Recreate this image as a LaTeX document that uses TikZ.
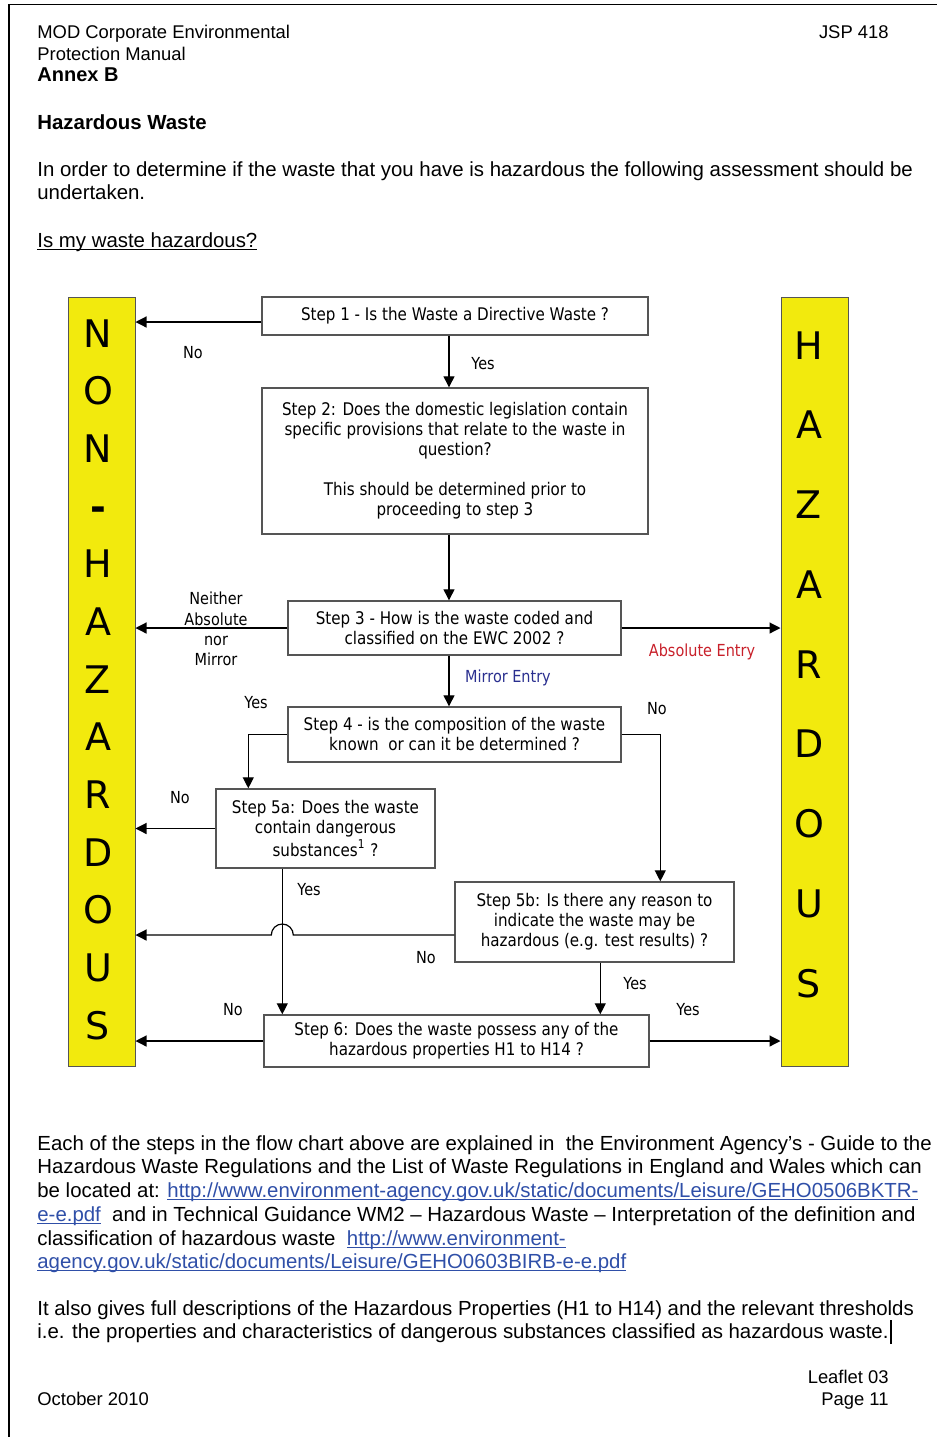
\documentclass[tikz,border=0pt]{standalone}
\usepackage{fontspec}
\setmainfont{Liberation Sans}
\newfontfamily\chartfont{DejaVu Sans}[FakeStretch=0.87]
\newfontfamily\barfont{DejaVu Sans}
\usetikzlibrary{arrows.meta,positioning}
\definecolor{hazyellow}{HTML}{F2EA0D}
\definecolor{boxgrey}{HTML}{555555}
\definecolor{entryred}{HTML}{C8202A}
\definecolor{entryblue}{HTML}{2A2F8F}
\definecolor{linkblue}{HTML}{2F4FA8}
\newcommand{\lowline}[1]{\leavevmode\setbox0\hbox{#1}\rlap{\rule[-1.3pt]{\wd0}{0.5pt}}\box0}
\newcommand{\weblink}[1]{\textcolor{linkblue}{\lowline{#1}}}

\begin{document}
\begin{tikzpicture}[x=0.5pt, y=-0.5pt, every node/.style={inner sep=0pt}, txt/.style={anchor=base west,font=\fontsize{10.2}{12}\selectfont}, small/.style={anchor=base west,font=\fontsize{9.2}{11}\selectfont}, box/.style={draw=boxgrey,line width=0.7pt,align=center,font=\chartfont\fontsize{8.7}{10}\selectfont}, bar/.style={draw=boxgrey,fill=hazyellow,line width=0.5pt,minimum width=33.5pt,minimum height=384.5pt}, big/.style={anchor=base,font=\barfont\fontsize{19}{19}\selectfont}, lbl/.style={font=\chartfont\fontsize{8.3}{10.2}\selectfont,align=center}, arr/.style={-{Triangle[length=5.5pt,width=5.5pt]},line width=0.6pt}]
\useasboundingbox (0,0) rectangle (937,1437);
\draw[line width=0.8pt] (9,1437) -- (9,4.5) -- (937,4.5);

\node[small] (mod) at (37,38) {MOD Corporate Environmental};
\node[small] (manual) at (37,60) {Protection Manual};
\node[small,font=\fontsize{10}{11}\selectfont\bfseries] (annex) at (37,81) {Annex B};
\node[small,anchor=base east] (jsp) at (889,38) {JSP 418};
\node[txt,font=\fontsize{10.2}{12}\selectfont\bfseries] (title) at (37,129) {Hazardous Waste};
\node[txt] (intro1) at (37,176) {In order to determine if the waste that you have is hazardous the following assessment should be};
\node[txt] (intro2) at (37,199) {undertaken.};
\node[txt] (question) at (37,247) {\lowline{Is my waste hazardous?}};

\node[bar] (nonhaz) at (101.5,681.5) {};
\node[bar] (haz) at (814.5,681.5) {};
\foreach \ch [count=\i] in {N,O,N,\textbf{-},H,A,Z,A,R,D,O,U,S}
  \node[big] (non\i) at (98,{347+57.67*(\i-1)}) {\ch};
\foreach \ch [count=\i] in {H,A,Z,A,R,D,O,U,S}
  \node[big] (haz\i) at (809,{359+79.75*(\i-1)}) {\ch};

\node[box,minimum width=193pt,minimum height=19pt] (s1) at (455,316) {Step 1 - Is the Waste a Directive Waste ?};
\node[box,minimum width=193pt,minimum height=73pt] (s2) at (455,461) {Step 2: Does the domestic legislation contain\\specific provisions that relate to the waste in\\question?\\[10pt]This should be determined prior to\\proceeding to step 3};
\node[box,minimum width=166.5pt,minimum height=27pt] (s3) at (454.5,628) {Step 3 - How is the waste coded and\\classified on the EWC 2002 ?};
\node[box,minimum width=166.5pt,minimum height=27.5pt] (s4) at (454.5,734.5) {Step 4 - is the composition of the waste\\known~ or can it be determined ?};
\node[box,minimum width=109.5pt,minimum height=39.5pt] (s5a) at (325.5,828.5) {Step 5a: Does the waste\\contain dangerous\\substances\textsuperscript{1} ?};
\node[box,minimum width=139.5pt,minimum height=40pt] (s5b) at (594.5,922) {Step 5b: Is there any reason to\\indicate the waste may be\\hazardous (e.g. test results) ?};
\node[box,minimum width=192.5pt,minimum height=26pt] (s6) at (456.5,1041) {Step 6: Does the waste possess any of the\\hazardous properties H1 to H14 ?};

\coordinate (spine) at (449,0);
\draw[arr] (s1.south -| spine) -- (s2.north -| spine);
\draw[arr] (s2.south -| spine) -- (s3.north -| spine);
\draw[arr] (s3.south -| spine) -- (s4.north -| spine);
\draw[arr] ([yshift=-3pt]s1.west) -- ([yshift=-3pt]s1.west -| nonhaz.east);
\draw[arr] (s3.west) -- (s3.west -| nonhaz.east);
\draw[arr] (s3.east) -- (s3.east -| haz.west);
\draw[arr] (s4.west) -| ([xshift=16.5pt]s5a.north west);
\draw[arr] (s4.east) -| ([xshift=103pt]s5b.north west);
\draw[arr] (s5a.west) -- (s5a.west -| nonhaz.east);
\coordinate (cross) at ([xshift=33.5pt]s5a.south west);
\draw[arr] (cross) -- (cross |- s6.north);
\coordinate (drop) at ([xshift=73pt]s5b.south west);
\draw[arr] (drop) -- (drop |- s6.north);
\coordinate (hop) at (cross |- s5b.west);
\draw[arr] ([yshift=-6.5pt]s5b.west) -- ([xshift=5.5pt,yshift=-6.5pt]hop) arc[start angle=0,end angle=-180,radius=11] -- ([yshift=-6.5pt]s5b.west -| nonhaz.east);
\draw[arr] (s6.west) -- (s6.west -| nonhaz.east);
\draw[arr] (s6.east) -- (s6.east -| haz.west);

\node[lbl] (yes1) at (483,364) {Yes};
\node[lbl] (no1) at (193,353) {No};
\node[lbl] (neither) at (216,629) {Neither\\Absolute\\nor\\Mirror};
\node[lbl,text=entryred] (absentry) at (702,652) {Absolute Entry};
\node[lbl,text=entryblue] (mirentry) at (508,678) {Mirror Entry};
\node[lbl] (yes4) at (256,703) {Yes};
\node[lbl] (no4) at (657,709) {No};
\node[lbl] (no5a) at (180,798) {No};
\node[lbl] (yes5a) at (309,890) {Yes};
\node[lbl] (no5b) at (426,958) {No};
\node[lbl] (yes5b) at (635,984) {Yes};
\node[lbl] (no6) at (233,1010) {No};
\node[lbl] (yes6) at (688,1010) {Yes};

\node[txt] (foot1) at (37,1150) {Each of the steps in the flow chart above are explained in\ \ the Environment Agency’s - Guide to the};
\node[txt] (foot2) at (37,1173) {Hazardous Waste Regulations and the List of Waste Regulations in England and Wales which can};
\node[txt] (foot3) at (37,1197) {be located at: \weblink{http://www.environment-agency.gov.uk/static/documents/Leisure/GEHO0506BKTR-}};
\node[txt] (foot4) at (37,1221) {\weblink{e-e.pdf}\ \ and in Technical Guidance WM2 – Hazardous Waste – Interpretation of the definition and};
\node[txt] (foot5) at (37,1245) {classification of hazardous waste\ \ \weblink{http://www.environment-}};
\node[txt] (foot6) at (37,1268) {\weblink{agency.gov.uk/static/documents/Leisure/GEHO0603BIRB-e-e.pdf}};
\node[txt] (foot7) at (37,1315) {It also gives full descriptions of the Hazardous Properties (H1 to H14) and the relevant thresholds};
\node[txt] (foot8) at (37,1338) {i.e. the properties and characteristics of dangerous substances classified as hazardous waste.};
\draw[line width=0.6pt] ([xshift=1pt,yshift=-3pt]foot8.base east) -- ++(0,-24);
\node[small,anchor=base east] (leaflet) at (889,1383) {Leaflet 03};
\node[small,anchor=base east] (page) at (889,1405) {Page 11};
\node[small] (date) at (37,1405) {October 2010};
\end{tikzpicture}
\end{document}
